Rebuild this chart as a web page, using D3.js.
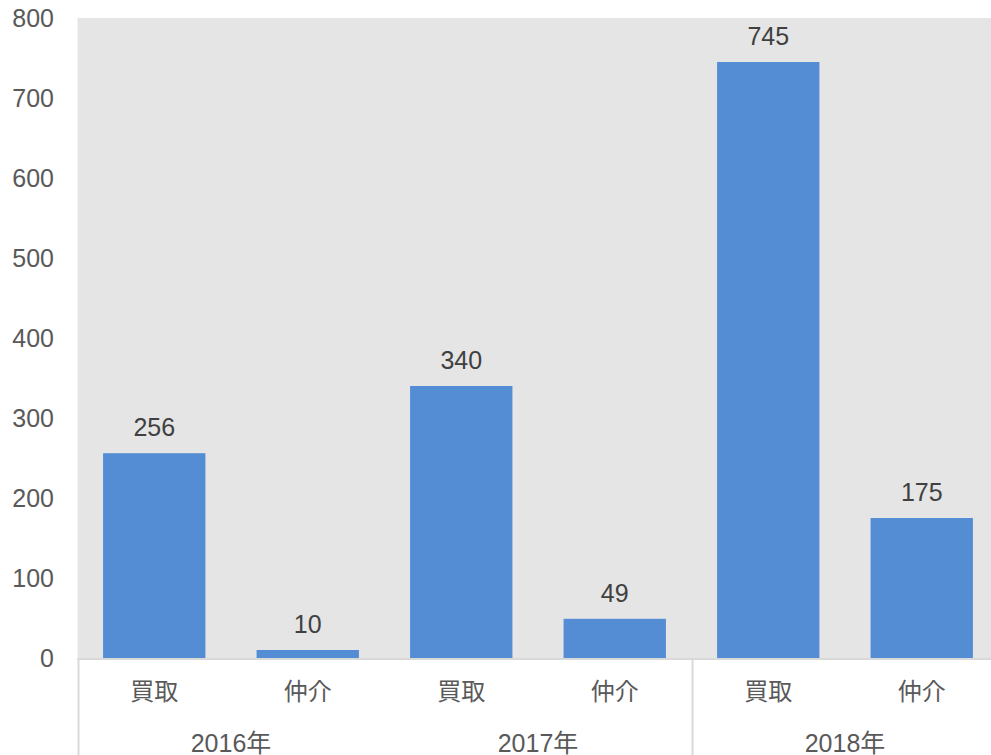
<!DOCTYPE html>
<html>
<head>
<meta charset="utf-8">
<script src="https://cdn.jsdelivr.net/npm/d3@7"></script>
<style>
  html, body { margin: 0; padding: 0; background: #fff; }
  svg { display: block; }
  text { font-family: "Liberation Sans", Arial, "Noto Sans CJK JP", sans-serif; }
</style>
</head>
<body>
<svg id="chart" width="991" height="755"></svg>
<script>
// Data: deals per year, split by type
const years = ["2016年", "2017年", "2018年"];
const types = ["買取", "仲介"];
const values = [256, 10, 340, 49, 745, 175];
const yTicks = [0, 100, 200, 300, 400, 500, 600, 700, 800];

(function () {
  const rows = [];
  years.forEach((yr, i) => types.forEach((t, j) => rows.push({ key: yr + "|" + t, year: yr, type: t, value: values[i * types.length + j] })));

  const svg = d3.select("#chart");
  const W = 991, H = 755;
  const plotL = 77.5, plotR = 998.5, plotT = 18, plotB = 658;
  const fs = 25;

  const x = d3.scaleBand().domain(rows.map(d => d.key)).range([plotL, plotR]).paddingInner(1 / 3).paddingOuter(1 / 6);
  const y = d3.scaleLinear().domain([0, 800]).range([plotB, plotT]);

  // plot background
  svg.append("rect").attr("x", plotL).attr("y", plotT).attr("width", W - plotL).attr("height", plotB - plotT).attr("fill", "#e5e5e5");

  // y axis labels
  const yAxis = d3.axisLeft(y).tickValues(yTicks).tickSize(0).tickPadding(0);
  const gy = svg.append("g").attr("transform", "translate(54,0)").call(yAxis);
  gy.select(".domain").remove();
  gy.selectAll("text").attr("font-size", fs).attr("fill", "#595959").attr("font-family", "'Liberation Sans', Arial, sans-serif");

  // bars
  svg.append("g").selectAll("rect").data(rows).join("rect")
    .attr("x", d => x(d.key))
    .attr("y", d => y(d.value))
    .attr("width", x.bandwidth())
    .attr("height", d => y(0) - y(d.value))
    .attr("fill", "#548dd4");

  // value labels
  svg.append("g").selectAll("text").data(rows).join("text")
    .attr("x", d => x(d.key) + x.bandwidth() / 2)
    .attr("y", d => y(d.value) - 17)
    .attr("text-anchor", "middle")
    .attr("font-size", fs)
    .attr("fill", "#404040")
    .text(d => d.value);

  // category axis line
  svg.append("line").attr("x1", plotL).attr("x2", W).attr("y1", plotB + 1).attr("y2", plotB + 1)
    .attr("stroke", "#d9d9d9").attr("stroke-width", 2);

  // group separators
  const groupBounds = [plotL, plotL + (plotR - plotL) * 4 / 6];
  svg.append("g").selectAll("line").data(groupBounds).join("line")
    .attr("x1", d => d + 1).attr("x2", d => d + 1)
    .attr("y1", plotB).attr("y2", H)
    .attr("stroke", "#d9d9d9").attr("stroke-width", 2);

  // type labels
  svg.append("g").selectAll("text").data(rows).join("text")
    .attr("x", d => x(d.key) + x.bandwidth() / 2)
    .attr("y", 700)
    .attr("text-anchor", "middle")
    .attr("font-size", 24)
    .attr("fill", "#595959")
    .attr("font-family", "'Noto Sans CJK JP', sans-serif")
    .text(d => d.type);

  // year labels
  const step = (plotR - plotL) / years.length;
  svg.append("g").selectAll("text").data(years).join("text")
    .attr("x", (d, i) => plotL + step * (i + 0.5))
    .attr("y", 752)
    .attr("text-anchor", "middle")
    .attr("font-size", fs)
    .attr("fill", "#595959")
    .text(d => d);
})();
</script>
</body>
</html>
